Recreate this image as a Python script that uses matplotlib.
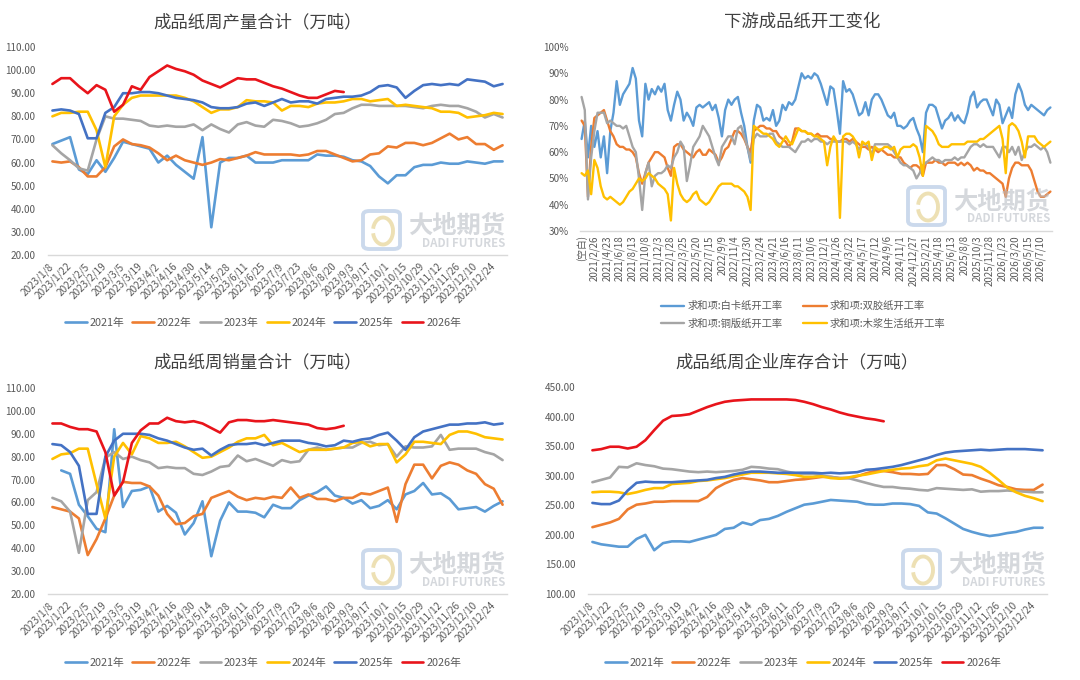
import numpy as np
import matplotlib
matplotlib.use('Agg')
import matplotlib.pyplot as plt
from matplotlib.patches import FancyBboxPatch, Arc

plt.rcParams['font.family'] = ['Noto Sans CJK SC', 'DejaVu Sans']

nan = np.nan

# ---------------- data ----------------
years = ['2021年', '2022年', '2023年', '2024年', '2025年', '2026年']
year_colors = ['#5B9BD5', '#ED7D31', '#A5A5A5', '#FFC000', '#4472C4', '#E8141B']

week_labels = ['2023/1/8', '2023/1/22', '2023/2/5', '2023/2/19', '2023/3/5', '2023/3/19',
               '2023/4/2', '2023/4/16', '2023/4/30', '2023/5/14', '2023/5/28', '2023/6/11',
               '2023/6/25', '2023/7/9', '2023/7/23', '2023/8/6', '2023/8/20', '2023/9/3',
               '2023/9/17', '2023/10/1', '2023/10/15', '2023/10/29', '2023/11/12',
               '2023/11/26', '2023/12/10', '2023/12/24']

# weekly production (万吨)
prod_2021 = [68, 69.5, 71, 57, 55, 61, 56, 62, 69, 68, 67, 66, 60, 63, 59, 56, 53, 71, 32, 60,
             62, 62, 63, 60, 60, 60, 61, 61, 61, 61, 63.5, 63, 63, 62.5, 61, 60.5, 58.5, 54, 51,
             54.5, 54.5, 58, 59, 59, 60, 59.5, 59.5, 60.5, 60, 59.5, 60.5, 60.5]
prod_2022 = [60.5, 60, 60.5, 58, 54, 54, 58, 67, 70, 68, 67.5, 66.5, 64, 61, 63, 61, 60, 59, 60,
             61.5, 61, 62, 63, 64.5, 63.5, 63.5, 63.5, 63.5, 63, 63.5, 65, 65, 63.5, 62, 60.5,
             61, 63.5, 64, 67, 66.5, 68.5, 68.5, 67.5, 68.5, 70.5, 72.5, 70, 71, 68, 68, 65.5, 67.5]
prod_2023 = [67.5, 64, 61, 57.5, 56.5, 70, 80, 79, 79, 78.5, 78, 76, 75.5, 76, 75.5, 75.5, 76.5,
             74, 76.5, 74.5, 73, 76.5, 77.5, 76, 75.5, 78.5, 78, 77, 75.5, 76, 77, 78.5, 81, 81.5,
             83.5, 85, 85, 84.5, 84.5, 84.5, 84.5, 84, 83.5, 84.5, 85, 84.5, 84.5, 83.5, 82, 79.5,
             81, 79.5]
prod_2024 = [80, 81.5, 81.5, 82, 82, 74, 58, 80, 85, 88, 89, 89, 89, 89, 89, 88, 86.5, 84, 81.5,
             83, 83, 84, 87, 86.5, 86.5, 86, 82.5, 84.5, 84.5, 84, 85.5, 86, 86, 86.5, 87.5, 87.5,
             86.5, 87, 87.5, 84.5, 85, 84.5, 84, 83.5, 82, 82, 81.5, 79.5, 80, 80.5, 81.5, 81]
prod_2025 = [82.5, 83, 82.5, 81, 70.5, 70.5, 81.5, 84, 90, 90, 90.5, 90.5, 90, 89, 88, 87.5, 87,
             86, 84, 83.5, 83.5, 84, 85.5, 86, 84.5, 86, 87.5, 86, 86.5, 86.5, 85.5, 87.5, 88,
             88.5, 88.5, 89, 90.5, 93, 93.5, 92.5, 88, 91, 93.5, 94, 93.5, 94, 93.5, 96, 95.5, 95,
             93, 94]
prod_2026 = [94, 96.5, 96.5, 93, 90, 93.5, 91.5, 82, 85, 93, 91.5, 97, 99.5, 102, 100.5, 99.5, 98,
             95.5, 94, 92.5, 94.5, 96.5, 96, 96, 94.5, 93, 92, 90.5, 89, 88, 88, 89.5, 91, 90.5]

# weekly sales (万吨)
sales_2021 = [nan, 74, 72.5, 59, 54, 48.5, 47, 92, 58, 65, 65.5, 67, 56, 58.5, 55.5, 46, 51, 60.5,
              36.5, 52, 60, 56, 56, 55.5, 53.5, 59, 57.5, 57.5, 61, 63, 64.5, 67, 63, 62, 59.5, 61,
              57.5, 58.5, 61, 57, 63.5, 65, 68.5, 63.5, 64, 61.5, 57, 57.5, 58, 56, 58.5, 60.5]
sales_2022 = [58, 57, 56, 53, 37, 44, 53, 63, 69, 68.5, 68.5, 67, 63, 55, 50.5, 51, 54, 55, 62,
              63.5, 65, 62.5, 61, 62, 61.5, 62.5, 62, 66.5, 62, 63.5, 61.5, 61.5, 60.5, 62, 62, 64,
              63.5, 65, 66.5, 51.5, 68, 76.5, 76.5, 70.5, 76, 77.5, 76.5, 74, 72.5, 68, 66, 59]
sales_2023 = [62, 60.5, 56, 38, 61, 64.5, 79.5, 82, 79, 80, 78.5, 77.5, 75, 75.5, 75, 75, 72.5, 72,
              73.5, 75.5, 76, 80.5, 78, 79, 77.5, 76, 78.5, 77.5, 78, 83, 84, 83, 83.5, 84, 84, 86,
              86.5, 85, 85.5, 80, 84.5, 84, 84, 84.5, 89.5, 83, 83.5, 83.5, 83.5, 82, 81, 78.5]
sales_2024 = [79, 81, 81.5, 83.5, 83.5, 68, 53, 80, 86, 81, 89, 88, 86, 86, 86.5, 84.5, 82, 79.5,
              80, 82, 84, 86.5, 88, 88, 89.5, 85, 86, 84, 82, 83, 83, 83, 83.5, 84, 86, 86.5, 84.5,
              85.5, 85.5, 77.5, 81, 86.5, 86.5, 86, 85.5, 89.5, 91, 91, 90, 88.5, 88, 87.5]
sales_2025 = [85.5, 85, 82, 76, 55, 55, 80, 87, 90, 90, 90, 89.5, 88, 87, 85.5, 84, 83, 83.5, 80.5,
              83, 85, 85.5, 85.5, 86, 85, 86, 87, 87, 87, 86, 85.5, 84.5, 85, 87, 86.5, 87.5, 88,
              89.5, 90.5, 87, 83, 88.5, 91, 92, 93, 94, 94, 94.5, 94.5, 95, 94, 94.5]
sales_2026 = [94.5, 94.5, 93, 92, 92, 91, 82, 63, 69, 86, 91.5, 94.5, 94.5, 97, 95.5, 95, 95.5,
              94.5, 92.5, 90.5, 95, 96, 96, 95.5, 95.5, 96, 95.5, 95, 94.5, 94, 92.5, 92, 92.5, 93.5]

# weekly enterprise inventory (万吨)
inv_2021 = [188, 184, 182, 180, 180, 193, 200, 174, 186, 189, 189, 188, 192, 196, 200, 210, 212,
            221, 217, 225, 227, 232, 239, 245, 251, 253, 256, 259, 258, 257, 256, 252, 251, 251,
            253, 253, 252, 249, 238, 236, 228, 219, 210, 205, 201, 198, 200, 203, 205, 209, 212, 212]
inv_2022 = [213, 217, 221, 227, 243, 251, 253, 256, 256, 257, 257, 257, 257, 264, 279, 287, 293,
            296, 294, 292, 289, 289, 291, 293, 294, 296, 298, 298, 296, 296, 299, 304, 308, 308,
            306, 303, 303, 302, 303, 318, 318, 311, 302, 301, 295, 290, 284, 281, 277, 276, 276, 285]
inv_2023 = [289, 293, 297, 315, 314, 321, 318, 316, 312, 311, 309, 307, 306, 307, 306, 307, 308,
            310, 315, 314, 312, 311, 307, 304, 303, 303, 300, 298, 296, 296, 292, 288, 284, 281,
            281, 279, 278, 276, 275, 279, 278, 277, 276, 277, 273, 274, 274, 275, 274, 273, 272, 272]
inv_2024 = [272, 273, 273, 272, 269, 272, 276, 279, 279, 286, 287, 288, 291, 292, 294, 296, 299,
            302, 305, 305, 305, 304, 303, 301, 298, 298, 299, 296, 295, 297, 300, 302, 305, 308,
            310, 312, 313, 316, 318, 326, 329, 326, 323, 320, 315, 305, 293, 280, 272, 266, 262, 257]
inv_2025 = [254, 252, 252, 258, 275, 288, 290, 289, 289, 289, 290, 291, 292, 293, 296, 298, 302,
            305, 307, 307, 306, 305, 305, 305, 305, 305, 304, 305, 304, 305, 306, 310, 311, 313,
            315, 318, 322, 326, 330, 335, 339, 341, 342, 343, 344, 343, 344, 345, 345, 345, 344, 343]
inv_2026 = [343, 345, 349, 349, 346, 349, 360, 377, 393, 401, 402, 404, 410, 416, 421, 425, 427,
            428, 429, 429, 429, 429, 429, 428, 425, 421, 416, 412, 407, 403, 400, 397, 395, 392]

# downstream operating rates (%), two-week steps
rate_labels = ['(空白)', '2021/2/26', '2021/4/23', '2021/6/18', '2021/8/13', '2021/10/8',
               '2021/12/3', '2022/1/28', '2022/3/25', '2022/5/20', '2022/7/15', '2022/9/9',
               '2022/11/4', '2022/12/30', '2023/2/24', '2023/4/21', '2023/6/16', '2023/8/11',
               '2023/10/6', '2023/12/1', '2024/1/26', '2024/3/22', '2024/5/17', '2024/7/12',
               '2024/9/6', '2024/11/1', '2024/12/27', '2025/2/21', '2025/4/18', '2025/6/13',
               '2025/8/8', '2025/10/3', '2025/11/28', '2026/1/23', '2026/3/20', '2026/5/15',
               '2026/7/10']
rate_names = ['求和项:白卡纸开工率', '求和项:双胶纸开工率', '求和项:铜版纸开工率', '求和项:木浆生活纸开工率']
rate_colors = ['#5B9BD5', '#ED7D31', '#A5A5A5', '#FFC000']

rate_white = [65, 72, 58, 70, 62, 68, 58, 66, 52, 68,
              75, 87, 78, 82, 84, 86, 92, 88, 72, 66,
              86, 80, 84, 82, 85, 83, 86, 76, 72, 78,
              83, 80, 72, 75, 73, 70, 77, 78, 77, 78,
              79, 76, 78, 73, 66, 76, 80, 78, 80, 81,
              75, 70, 62, 56, 72, 78, 77, 72, 73, 72,
              76, 70, 72, 78, 76, 79, 78, 80, 85, 90,
              88, 89, 88, 90, 89, 86, 82, 78, 85, 84,
              76, 67, 87, 83, 84, 82, 78, 74, 75, 79,
              74, 80, 82, 82, 80, 77, 74, 73, 75, 70,
              70, 69, 70, 72, 73, 69, 66, 60, 75, 78,
              78, 77, 73, 69, 72, 73, 75, 72, 74, 72,
              71, 75, 81, 83, 77, 79, 80, 80, 77, 74,
              80, 78, 71, 74, 77, 73, 82, 86, 83, 78,
              76, 78, 77, 76, 75, 74, 76, 77]
rate_woodfree = [72, 70, 43, 62, 73, 74, 75, 76, 72, 68,
                 66, 63, 62, 62, 61, 61, 60, 58, 52, 48,
                 52, 56, 58, 60, 60, 59, 58, 54, 51, 62,
                 63, 63, 61, 60, 59, 58, 60, 61, 59, 59,
                 61, 60, 59, 56, 58, 61, 62, 65, 68, 68,
                 67, 65, 62, 60, 68, 69, 70, 70, 69, 69,
                 68, 68, 66, 65, 64, 62, 64, 69, 69, 68,
                 68, 67, 67, 66, 67, 66, 66, 66, 65, 65,
                 64, 64, 65, 65, 64, 65, 64, 63, 62, 62,
                 61, 62, 61, 60, 61, 60, 59, 59, 58, 58,
                 58, 56, 55, 54, 55, 55, 54, 51, 56, 56,
                 56, 57, 56, 56, 55, 56, 56, 56, 55, 56,
                 55, 56, 55, 53, 54, 53, 53, 52, 52, 51,
                 50, 49, 48, 43, 50, 54, 56, 56, 55, 55,
                 55, 53, 49, 45, 43, 43, 44, 45]
rate_coated = [81, 76, 42, 58, 68, 75, 75, 75, 71, 72,
               71, 70, 70, 69, 70, 66, 62, 60, 50, 38,
               52, 56, 47, 51, 52, 52, 53, 55, 54, 58,
               60, 64, 62, 49, 55, 62, 64, 66, 70, 68,
               66, 62, 58, 55, 62, 64, 66, 66, 63, 69,
               70, 66, 62, 57, 65, 67, 66, 66, 66, 67,
               67, 64, 63, 62, 62, 62, 61, 60, 62, 64,
               64, 65, 64, 65, 65, 64, 64, 63, 64, 64,
               64, 64, 64, 64, 63, 64, 63, 61, 63, 63,
               62, 59, 63, 63, 63, 63, 63, 62, 60, 58,
               56, 55, 55, 54, 53, 50, 52, 55, 56, 57,
               58, 57, 57, 56, 57, 57, 57, 58, 57, 58,
               58, 60, 62, 63, 63, 62, 63, 62, 62, 62,
               60, 58, 62, 62, 60, 62, 59, 62, 57, 60,
               62, 62, 63, 62, 61, 62, 60, 56]
rate_tissue = [52, 51, 53, 44, 57, 54, 47, 43, 42, 43,
               42, 41, 40, 41, 43, 45, 46, 48, 50, 49,
               50, 52, 51, 50, 48, 47, 46, 44, 34, 54,
               48, 44, 42, 41, 42, 44, 45, 42, 41, 40,
               41, 43, 45, 47, 48, 48, 48, 48, 47, 47,
               46, 45, 43, 38, 70, 69, 68, 67, 67, 66,
               65, 63, 62, 64, 66, 64, 63, 66, 69, 68,
               68, 67, 67, 66, 66, 65, 64, 55, 62, 66,
               64, 35, 66, 67, 67, 66, 64, 58, 64, 63,
               64, 57, 62, 61, 61, 62, 62, 61, 62, 58,
               61, 62, 62, 62, 63, 62, 58, 51, 70, 69,
               68, 66, 63, 62, 62, 62, 63, 63, 63, 63,
               63, 64, 64, 64, 64, 65, 65, 66, 67, 68,
               69, 70, 65, 52, 70, 71, 70, 68, 64, 58,
               66, 66, 66, 64, 63, 62, 63, 64]

# ---------------- drawing ----------------
W, H = 1080, 680
fig = plt.figure(figsize=(W / 100, H / 100), dpi=100)
TXT = '#595959'
TITLE = '#404040'
AXLINE = '#D9D9D9'


def px_rect(x0, y0, x1, y1):
    """pixel box (top-left origin) -> figure fraction rect"""
    return [x0 / W, 1 - y1 / H, (x1 - x0) / W, (y1 - y0) / H]


def style_axes(ax):
    for s in ['top', 'right', 'left']:
        ax.spines[s].set_visible(False)
    ax.spines['bottom'].set_color(AXLINE)
    ax.spines['bottom'].set_linewidth(1.0)
    ax.tick_params(axis='both', length=0, colors=TXT)
    ax.set_facecolor('none')


def watermark(ax_box):
    x0, y0, x1, y1 = ax_box
    ix0, iy1 = x1 - 144, y1 - 6
    box = FancyBboxPatch((ix0 / W, 1 - iy1 / H), 37 / W, 38 / H,
                         boxstyle='round,pad=0,rounding_size=0.006',
                         transform=fig.transFigure, fill=False, ec='#A9C1E0',
                         lw=2.8, alpha=0.6, zorder=0)
    fig.add_artist(box)
    arc = Arc(((ix0 + 20) / W, 1 - (iy1 - 18) / H), 20 / W, 27 / H, angle=0,
              theta1=200, theta2=520, transform=fig.transFigure, color='#E9D9A2',
              lw=2.8, alpha=0.8, zorder=0)
    fig.add_artist(arc)
    fig.text((x1 - 2) / W, 1 - (y1 - 30) / H, '大地期货', ha='right', va='center',
             fontsize=17.5, fontweight='bold', color='#B9BEC6', alpha=0.6, zorder=0)
    fig.text((x1 - 2) / W, 1 - (y1 - 12) / H, 'DADI FUTURES', ha='right', va='center',
             fontsize=8.3, fontweight='bold', color='#B9BEC6', alpha=0.6, zorder=0)


def weekly_chart(box, title, title_x, title_y, series, ylim, ystep, legend_xy):
    ax = fig.add_axes(px_rect(*box))
    for s, c, lab in zip(series, year_colors, years):
        ax.plot(np.arange(len(s)), s, color=c, lw=1.9, label=lab,
                solid_joinstyle='round', solid_capstyle='round')
    ax.set_xlim(-0.5, 51.5)
    ax.set_ylim(*ylim)
    yt = np.arange(ylim[0], ylim[1] + 0.1, ystep)
    ax.set_yticks(yt)
    ax.set_yticklabels([f'{v:.2f}' for v in yt], fontsize=7.2)
    ax.set_xticks(np.arange(0, 52, 2))
    ax.set_xticklabels(week_labels, rotation=45, ha='right', va='center',
                       rotation_mode='anchor', fontsize=7.2)
    style_axes(ax)
    ax.tick_params(axis='y', pad=9)
    ax.tick_params(axis='x', pad=7)
    fig.text(title_x / W, 1 - title_y / H, title, ha='center', va='center',
             fontsize=12.5, color=TITLE)
    fig.legend(*ax.get_legend_handles_labels(), loc='center',
               bbox_to_anchor=(legend_xy[0] / W, 1 - legend_xy[1] / H), ncol=6,
               frameon=False, fontsize=7.8, handlelength=2.0, handletextpad=0.25,
               columnspacing=0.75, labelcolor=TXT)
    watermark(box)
    return ax


# top-left: production
weekly_chart((48, 47, 507, 255), '成品纸周产量合计（万吨）', 258, 22,
             [prod_2021, prod_2022, prod_2023, prod_2024, prod_2025, prod_2026],
             (20, 110), 10, (263, 323))

# bottom-left: sales
weekly_chart((48, 388, 507, 594), '成品纸周销量合计（万吨）', 258, 362,
             [sales_2021, sales_2022, sales_2023, sales_2024, sales_2025, sales_2026],
             (20, 110), 10, (263, 663))

# bottom-right: inventory
weekly_chart((588, 387, 1047, 594), '成品纸周企业库存合计（万吨）', 797, 362,
             [inv_2021, inv_2022, inv_2023, inv_2024, inv_2025, inv_2026],
             (100, 450), 50, (803, 663))

# top-right: operating rates
box_tr = (580, 47, 1052, 231)
ax = fig.add_axes(px_rect(*box_tr))
lines = []
for s, c, lab in zip([rate_white, rate_woodfree, rate_coated, rate_tissue], rate_colors, rate_names):
    ln, = ax.plot(np.arange(len(s)), s, color=c, lw=1.7, label=lab,
                  solid_joinstyle='round', solid_capstyle='round')
    lines.append(ln)
ax.set_xlim(-0.5, len(rate_white) - 0.5)
ax.set_ylim(30, 100)
yt = np.arange(30, 101, 10)
ax.set_yticks(yt)
ax.set_yticklabels([f'{v}%' for v in yt], fontsize=7.2)
ax.set_xticks(np.arange(0, 4 * len(rate_labels), 4))
ax.set_xticklabels(rate_labels, rotation=90, ha='center', va='top', fontsize=7)
style_axes(ax)
ax.tick_params(axis='y', pad=8)
ax.tick_params(axis='x', pad=3)
fig.text(802 / W, 1 - 22 / H, '下游成品纸开工变化', ha='center', va='center',
         fontsize=12.5, color=TITLE)
order = [0, 2, 1, 3]  # row-major layout: 白卡 双胶 / 铜版 木浆
fig.legend([lines[i] for i in order], [rate_names[i] for i in order], loc='center',
           bbox_to_anchor=(803 / W, 1 - 315 / H), ncol=2,
           frameon=False, fontsize=7.4, handlelength=2.3, handletextpad=0.3,
           columnspacing=2.0, labelspacing=0.75, labelcolor=TXT)
watermark(box_tr)

fig.savefig('out.png', dpi=100, facecolor='white')
